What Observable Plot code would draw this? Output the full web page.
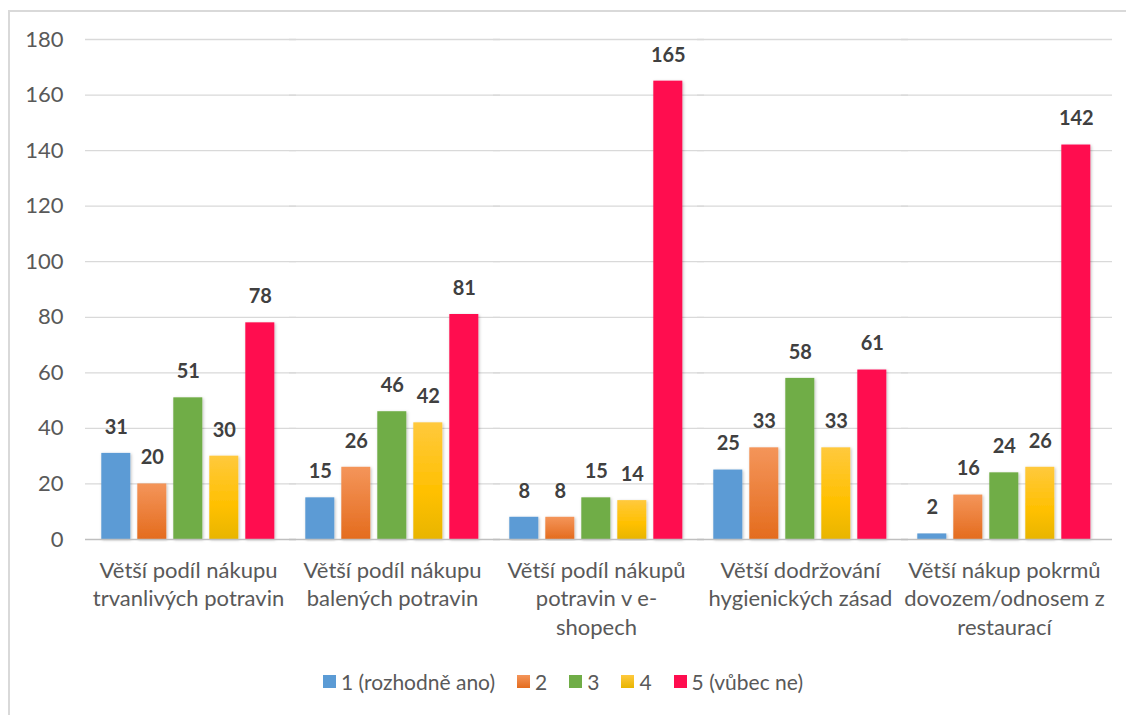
<!DOCTYPE html>
<html>
<head>
<meta charset="utf-8">
<script src="https://cdn.jsdelivr.net/npm/d3@7"></script>
<script src="https://cdn.jsdelivr.net/npm/@observablehq/plot@0.6"></script>
<style>
  html, body { margin: 0; padding: 0; background: #fff; }
  body { width: 1126px; height: 715px; position: relative; overflow: hidden; font-family: Lato, "Open Sans", sans-serif; }
  #frame { position: absolute; left: 8px; top: 10px; width: 1130px; height: 720px; border: 2px solid #d9d9d9; box-sizing: border-box; }
  #chart { position: absolute; left: 0; top: 0; }
  #legend { position: absolute; left: 0; top: 669px; width: 1126px; display: flex; justify-content: center; gap: 22px; font-size: 21px; color: #595959; }
  #legend .item { display: flex; align-items: center; gap: 5px; }
  #legend .sw { width: 13px; height: 13px; display: inline-block; }
</style>
</head>
<body>
<div id="frame"></div>
<div id="chart"></div>
<div id="legend"></div>
<script>
const categories = [
  "Větší podíl nákupu\ntrvanlivých potravin",
  "Větší podíl nákupu\nbalených potravin",
  "Větší podíl nákupů\npotravin v e-\nshopech",
  "Větší dodržování\nhygienických zásad",
  "Větší nákup pokrmů\ndovozem/odnosem z\nrestaurací"
];
const seriesNames = ["1 (rozhodně ano)", "2", "3", "4", "5 (vůbec ne)"];
const s1 = [31, 15, 8, 25, 2];
const s2 = [20, 26, 8, 33, 16];
const s3 = [51, 46, 15, 58, 24];
const s4 = [30, 42, 14, 33, 26];
const s5 = [78, 81, 165, 61, 142];
const yTicks = [0, 20, 40, 60, 80, 100, 120, 140, 160, 180];
const seriesColors = ["#5B9BD5", "url(#gOrange)", "#70AD47", "url(#gYellow)", "#FF0D4F"];
const legendCss = ["#5B9BD5", "linear-gradient(#F4955A,#E46C1E)", "#70AD47", "linear-gradient(#FFC93D,#E8B500)", "#FF0D4F"];

const allSeries = [s1, s2, s3, s4, s5];
const rows = [];
categories.forEach((c, i) => {
  allSeries.forEach((s, j) => rows.push({cat: c, series: seriesNames[j], value: s[i]}));
});

const H = 660;
const chart = Plot.plot({
  width: 1126,
  height: H,
  marginLeft: 92.7,
  marginRight: 26.5,
  marginTop: 39,
  marginBottom: H - 539,
  style: {fontFamily: "Lato, 'Open Sans', sans-serif", color: "#595959", background: "transparent"},
  fx: {domain: categories, paddingInner: 0.0707, paddingOuter: 0, label: null},
  x: {domain: seriesNames, padding: 0.2, axis: null},
  y: {domain: [0, 180], ticks: yTicks, label: null, axis: null},
  color: {domain: seriesNames, range: seriesColors},
  marks: [
    Plot.ruleY(yTicks.filter(t => t > 0), {stroke: "#d9d9d9", strokeWidth: 1.3, insetLeft: -8, insetRight: -13}),
    Plot.axisY(yTicks, {tickSize: 0, tickPadding: 30, fontSize: 22, fill: "#595959", label: null}),
    Plot.barY(rows, {fx: "cat", x: "series", y: "value", fill: "series"}),
    Plot.ruleY([0], {stroke: "#bfbfbf", strokeWidth: 1.3, insetLeft: -8, insetRight: -13}),
    Plot.text(rows, {fx: "cat", x: "series", y: "value", text: d => String(d.value), dy: -26, fontSize: 20, fontWeight: "bold", fill: "#404040"}),
    Plot.axisFx({anchor: "bottom", tickSize: 0, tickPadding: 18, fontSize: 22, lineHeight: 1.3, fill: "#595959", label: null})
  ]
});

// gradients + subtle shadow
const ns = "http://www.w3.org/2000/svg";
const defs = document.createElementNS(ns, "defs");
defs.innerHTML = `
  <linearGradient id="gOrange" x1="0" y1="0" x2="0" y2="1">
    <stop offset="0" stop-color="#F4955A"/><stop offset="1" stop-color="#E46C1E"/>
  </linearGradient>
  <linearGradient id="gYellow" x1="0" y1="0" x2="0" y2="1">
    <stop offset="0" stop-color="#FFC93D"/><stop offset="0.6" stop-color="#FFC000"/><stop offset="1" stop-color="#E8B500"/>
  </linearGradient>
  <filter id="shadow" x="-20%" y="-5%" width="140%" height="110%">
    <feDropShadow dx="1" dy="1" stdDeviation="1.5" flood-color="#000" flood-opacity="0.25"/>
  </filter>`;
chart.insertBefore(defs, chart.firstChild);
chart.querySelectorAll("g[aria-label='bar'] rect").forEach(r => r.setAttribute("filter", "url(#shadow)"));
document.getElementById("chart").appendChild(chart);

const legend = document.getElementById("legend");
seriesNames.forEach((n, i) => {
  const it = document.createElement("div");
  it.className = "item";
  const sw = document.createElement("span");
  sw.className = "sw";
  sw.style.background = legendCss[i];
  const t = document.createElement("span");
  t.textContent = n;
  it.appendChild(sw); it.appendChild(t);
  legend.appendChild(it);
});
</script>
</body>
</html>
